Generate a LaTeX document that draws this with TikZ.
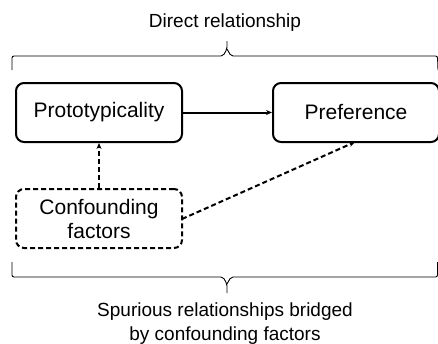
\documentclass[tikz,border=0pt]{standalone}
\usepackage{fontspec}
\setmainfont{Liberation Sans}
\usetikzlibrary{arrows.meta}
\begin{document}
\begin{tikzpicture}[x=1pt,y=-1pt,
  box/.style={draw, line width=2pt, rounded corners=8pt, minimum width=166pt, minimum height=59pt, inner sep=0pt, align=center, font=\fontsize{21}{24}\selectfont},
  dbox/.style={box, dash pattern=on 5pt off 3pt},
  conn/.style={line width=2pt, -{Stealth[length=6pt,width=5pt]}},
  dconn/.style={conn, dash pattern=on 5pt off 3pt},
  brace/.style={line width=0.9pt, rounded corners=2pt},
  lbl/.style={align=center, font=\fontsize{19}{23.5}\selectfont, inner sep=0pt}]
\useasboundingbox (0,0) rectangle (438,343);
\node[box] (proto) at (99,112.5) {Prototypicality};
\node[box] (pref) at (356,112.5) {Preference};
\node[dbox] (conf) at (99,218.5) {Confounding\\factors};
\draw[conn] (proto.east) -- (pref.west);
\draw[dconn] (conf.north) -- (proto.south);
\coordinate (cfe) at (182,219);
\coordinate (pfb) at (355,142);
\draw[dconn] (cfe) -- (pfb);
% top brace
\coordinate (tb1) at (12,70);
\coordinate (tb2) at (438,70);
\draw[brace] (tb1) -- (12,56) -- (223,56) -- (227,49) -- (227,41);
\draw[brace] (227,49) -- (231,56) -- (437.5,56) -- (tb2);
\node[lbl] (direct) at (225,23) {Direct relationship};
% bottom brace
\draw[brace] (12,262) -- (12,277) -- (223,277) -- (227,284) -- (227,293);
\draw[brace] (227,284) -- (231,277) -- (437.5,277) -- (437.5,262);
\node[lbl] (spur) at (225,323.5) {Spurious relationships bridged\\by confounding factors};
\end{tikzpicture}
\end{document}
